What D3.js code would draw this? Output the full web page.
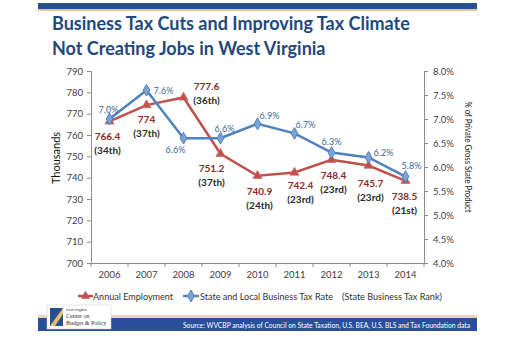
<!DOCTYPE html>
<html>
<head>
<meta charset="utf-8">
<script src="https://cdn.jsdelivr.net/npm/d3@7"></script>
<style>
  body { margin: 0; background: #fff; }
  svg { display: block; font-family: Lato, "Open Sans", sans-serif; }
</style>
</head>
<body>
<div id="chart"></div>
<script>
const years = ["2006", "2007", "2008", "2009", "2010", "2011", "2012", "2013", "2014"];
const employment = [766.4, 774, 777.6, 751.2, 740.9, 742.4, 748.4, 745.7, 738.5];
const taxRank = ["(34th)", "(37th)", "(36th)", "(37th)", "(24th)", "(23rd)", "(23rd)", "(23rd)", "(21st)"];
const taxRate = [7.0, 7.6, 6.6, 6.6, 6.9, 6.7, 6.3, 6.2, 5.8];
const leftTicks = [700, 710, 720, 730, 740, 750, 760, 770, 780, 790];
const rightTicks = [4.0, 4.5, 5.0, 5.5, 6.0, 6.5, 7.0, 7.5, 8.0];

// label nudges, [dx, dy] from the point
const rateNudge = [[-1, -10], [17, 0], [-8, 11], [4, -10], [12, -8], [11, -9], [0, -11], [15, -5], [6, -11]];
const empNudge = [[-2, 15], [0, 14], [23, -11], [-9, 14], [2, 15], [6, 12], [2, 15], [2, 17], [-1, 15]];

const W = 525, H = 340;
const red = "#c0504d", blue = "#4f81bd";

const svg = d3.select("#chart").append("svg")
    .attr("width", W)
    .attr("height", H);

// header band
svg.append("rect").attr("x", 38).attr("y", 3).attr("width", 439).attr("height", 6).attr("fill", "#2a4f8f");
svg.append("rect").attr("x", 38).attr("y", 9).attr("width", 439).attr("height", 2).attr("fill", "#d8c9a0");

const title = svg.append("text")
    .attr("fill", "#1f497d")
    .attr("font-weight", "bold")
    .attr("font-size", 18);
title.append("tspan").attr("x", 52).attr("y", 30).text("Business Tax Cuts and Improving Tax Climate");
title.append("tspan").attr("x", 52).attr("y", 55).text("Not Creating Jobs in West Virginia");

const x = d3.scaleBand().domain(years).range([91, 424]);
const yL = d3.scaleLinear().domain([700, 790]).range([263, 71]);
const yR = d3.scaleLinear().domain([4, 8]).range([263, 71]);
const cx = (d) => x(d) + x.bandwidth() / 2;

const axisColor = "#8c8c8c";

const gL = svg.append("g").attr("transform", "translate(91,0)")
    .call(d3.axisLeft(yL).tickValues(leftTicks).tickSize(4).tickPadding(4).tickFormat(d3.format("d")));
const gR = svg.append("g").attr("transform", "translate(424,0)")
    .call(d3.axisRight(yR).tickValues(rightTicks).tickSize(4).tickPadding(5).tickFormat((d) => d.toFixed(1) + "%"));
const gB = svg.append("g").attr("transform", "translate(0,263)")
    .call(d3.axisBottom(x).tickSize(0).tickPadding(8));

[gL, gR, gB].forEach((g) => {
    g.selectAll(".domain").attr("stroke", axisColor);
    g.selectAll(".tick line").attr("stroke", axisColor);
    g.selectAll("text").attr("fill", "#404040").attr("font-size", 9.5).attr("font-family", "Lato, sans-serif");
});

// category boundary ticks
svg.append("g").selectAll("line")
    .data(years.concat(["end"]))
    .enter().append("line")
    .attr("x1", (d) => d === "end" ? x.range()[1] : x(d))
    .attr("x2", (d) => d === "end" ? x.range()[1] : x(d))
    .attr("y1", 263).attr("y2", 267)
    .attr("stroke", axisColor);

svg.append("text")
    .attr("transform", "translate(60,158) rotate(-90)")
    .attr("text-anchor", "middle")
    .attr("font-size", 11)
    .attr("fill", "#111")
    .text("Thousands");

svg.append("text")
    .attr("transform", "translate(465,157) rotate(90)")
    .attr("text-anchor", "middle")
    .attr("font-size", 9)
    .attr("fill", "#222")
    .attr("textLength", 111)
    .attr("lengthAdjust", "spacingAndGlyphs")
    .text("% of Private  Gross State Product");

// lines
const empLine = d3.line().x((d, i) => cx(years[i])).y((d) => yL(d));
const rateLine = d3.line().x((d, i) => cx(years[i])).y((d) => yR(d));

svg.append("path").datum(employment)
    .attr("d", empLine).attr("fill", "none").attr("stroke", red).attr("stroke-width", 2.5);
svg.append("path").datum(taxRate)
    .attr("d", rateLine).attr("fill", "none").attr("stroke", blue).attr("stroke-width", 2.5);

const tri = d3.symbol().type(d3.symbolTriangle).size(36);
const dia = d3.symbol().type(d3.symbolDiamond).size(40);

svg.append("g").selectAll("path").data(employment).enter().append("path")
    .attr("d", tri)
    .attr("transform", (d, i) => `translate(${cx(years[i])},${yL(d)})`)
    .attr("fill", red).attr("stroke", "#c9706d").attr("stroke-width", 0.8);
svg.append("g").selectAll("path").data(taxRate).enter().append("path")
    .attr("d", dia)
    .attr("transform", (d, i) => `translate(${cx(years[i])},${yR(d)})`)
    .attr("fill", "#7da3d4").attr("stroke", blue).attr("stroke-width", 1);

// data labels
svg.append("g").selectAll("text").data(taxRate).enter().append("text")
    .attr("x", (d, i) => cx(years[i]) + rateNudge[i][0])
    .attr("y", (d, i) => yR(d) + rateNudge[i][1] + 3.5)
    .attr("text-anchor", "middle")
    .attr("font-size", 9)
    .attr("fill", "#3f6596")
    .text((d) => d.toFixed(1) + "%");

const empLabels = svg.append("g").selectAll("text").data(employment).enter().append("text")
    .attr("text-anchor", "middle")
    .attr("font-size", 10)
    .attr("font-weight", "bold");
empLabels.append("tspan")
    .attr("x", (d, i) => cx(years[i]) + empNudge[i][0])
    .attr("y", (d, i) => yL(d) + empNudge[i][1] + 4)
    .attr("fill", "#8b2a28")
    .text((d) => String(d));
empLabels.append("tspan")
    .attr("x", (d, i) => cx(years[i]) + empNudge[i][0])
    .attr("dy", 14)
    .attr("fill", "#2a2a2a")
    .text((d, i) => taxRank[i]);

// legend
const leg = svg.append("g").attr("font-size", 9.5).attr("fill", "#333");
leg.append("line").attr("x1", 78).attr("x2", 93).attr("y1", 296).attr("y2", 296).attr("stroke", red).attr("stroke-width", 2.5);
leg.append("path").attr("d", tri).attr("transform", "translate(85.5,296)").attr("fill", red);
leg.append("text").attr("x", 93).attr("y", 300).attr("textLength", 80).attr("lengthAdjust", "spacingAndGlyphs")
    .text("Annual Employment");
leg.append("line").attr("x1", 183).attr("x2", 199).attr("y1", 296).attr("y2", 296).attr("stroke", blue).attr("stroke-width", 2.5);
leg.append("path").attr("d", dia).attr("transform", "translate(191,296)").attr("fill", "#7da3d4").attr("stroke", blue);
leg.append("text").attr("x", 200).attr("y", 300).attr("textLength", 133).attr("lengthAdjust", "spacingAndGlyphs")
    .text("State and Local Business Tax Rate");
leg.append("text").attr("x", 342).attr("y", 300).attr("textLength", 100).attr("lengthAdjust", "spacingAndGlyphs")
    .text("(State Business Tax Rank)");

// footer band
svg.append("rect").attr("x", 38).attr("y", 315).attr("width", 439).attr("height", 3).attr("fill", "#e8d9a8");
svg.append("rect").attr("x", 38).attr("y", 318).attr("width", 439).attr("height", 13).attr("fill", "#2a4f9a");
svg.append("text").attr("x", 470).attr("y", 328)
    .attr("text-anchor", "end").attr("font-size", 6.8).attr("fill", "#fff")
    .attr("textLength", 287).attr("lengthAdjust", "spacingAndGlyphs")
    .text("Source: WVCBP analysis of Council on State Taxation, U.S. BEA, U.S. BLS and Tax Foundation data");

// logo
const logo = svg.append("g");
logo.append("rect").attr("x", 47).attr("y", 305).attr("width", 64).attr("height", 24).attr("fill", "#fff").attr("stroke", "#ccc").attr("stroke-width", 0.5);
logo.append("rect").attr("x", 50).attr("y", 308).attr("width", 13).attr("height", 18).attr("fill", "#2a4f8f");
logo.append("path").attr("d", "M50,326 L63,308 L63,314 L55,326 Z").attr("fill", "#e3c36a");
const lt = logo.append("text").attr("font-family", "Liberation Serif, serif").attr("fill", "#333");
lt.append("tspan").attr("x", 66).attr("y", 311).attr("font-size", 4).text("west virginia");
lt.append("tspan").attr("x", 66).attr("y", 318).attr("font-size", 6).text("Center on");
lt.append("tspan").attr("x", 66).attr("y", 325).attr("font-size", 6).text("Budget & Policy");
</script>
</body>
</html>
